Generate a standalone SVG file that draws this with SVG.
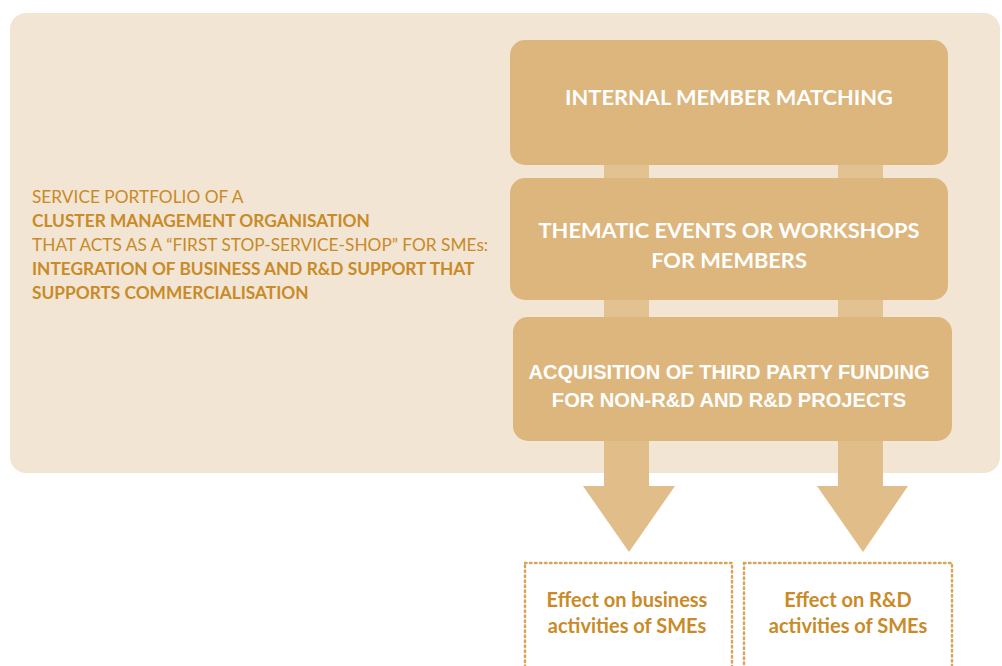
<svg xmlns="http://www.w3.org/2000/svg" width="1002" height="666" viewBox="0 0 1002 666">
<style>
.bg{fill:#F2E5D3}
.box{fill:#DDB67D}
.stem{fill:#E2C291}
.arrow{fill:#E0BD89}
.dot{fill:none;stroke:#D9A55A;stroke-width:2.5;stroke-dasharray:1.5 3.5;stroke-linecap:round}
.lt{font-family:Lato,"Open Sans",sans-serif;font-size:17.3px;fill:#C98A28}
.b{font-weight:bold}
.wt{font-family:Lato,"Open Sans",sans-serif;font-weight:bold;font-size:21.8px;fill:#FFFFFF;text-anchor:middle}
.wa{font-family:"Liberation Sans",Arial,sans-serif;font-weight:bold;font-size:20.1px;fill:#FFFFFF;text-anchor:middle}
.et{font-family:Lato,"Open Sans",sans-serif;font-weight:bold;font-size:20px;fill:#C98A28;text-anchor:middle}
</style>
<rect class="bg" x="10" y="13" width="990" height="460" rx="16"/>
<g id="title">
<text class="lt" x="32" y="203">SERVICE PORTFOLIO OF A</text>
<text class="lt b" x="32" y="227">CLUSTER MANAGEMENT ORGANISATION</text>
<text class="lt" x="32" y="251">THAT ACTS AS A “FIRST STOP-SERVICE-SHOP” FOR SMEs:</text>
<text class="lt b" x="32" y="275">INTEGRATION OF BUSINESS AND R&amp;D SUPPORT THAT</text>
<text class="lt b" x="32" y="299">SUPPORTS COMMERCIALISATION</text>
</g>
<g id="connectors">
<rect class="stem" x="604" y="160" width="45" height="22"/>
<rect class="stem" x="838" y="160" width="45" height="22"/>
<rect class="stem" x="604" y="296" width="45" height="25"/>
<rect class="stem" x="838" y="296" width="45" height="25"/>
<polygon class="arrow" points="604,436 649,436 649,486 675,486 629,552 583,486 604,486"/>
<polygon class="arrow" points="838,436 883,436 883,486 908,486 863,552 817,486 838,486"/>
</g>
<g id="box1">
<rect class="box" x="510" y="40" width="438" height="125" rx="15"/>
<text class="wt" x="729" y="105">INTERNAL MEMBER MATCHING</text>
</g>
<g id="box2">
<rect class="box" x="510" y="178" width="438" height="122" rx="15"/>
<text class="wt" x="729" y="238">THEMATIC EVENTS OR WORKSHOPS</text>
<text class="wt" x="729" y="268">FOR MEMBERS</text>
</g>
<g id="box3">
<rect class="box" x="513" y="317" width="439" height="124" rx="15"/>
<text class="wa" x="729" y="379">ACQUISITION OF THIRD PARTY FUNDING</text>
<text class="wa" x="729" y="407">FOR NON-R&amp;D AND R&amp;D PROJECTS</text>
</g>
<g id="effect-business">
<rect class="dot" x="525" y="563" width="207" height="120"/>
<text class="et" x="627" y="607">Effect on business</text>
<text class="et" x="627" y="633">activities of SMEs</text>
</g>
<g id="effect-rd">
<rect class="dot" x="744" y="563" width="208" height="120"/>
<text class="et" x="848" y="607">Effect on R&amp;D</text>
<text class="et" x="848" y="633">activities of SMEs</text>
</g>
</svg>
